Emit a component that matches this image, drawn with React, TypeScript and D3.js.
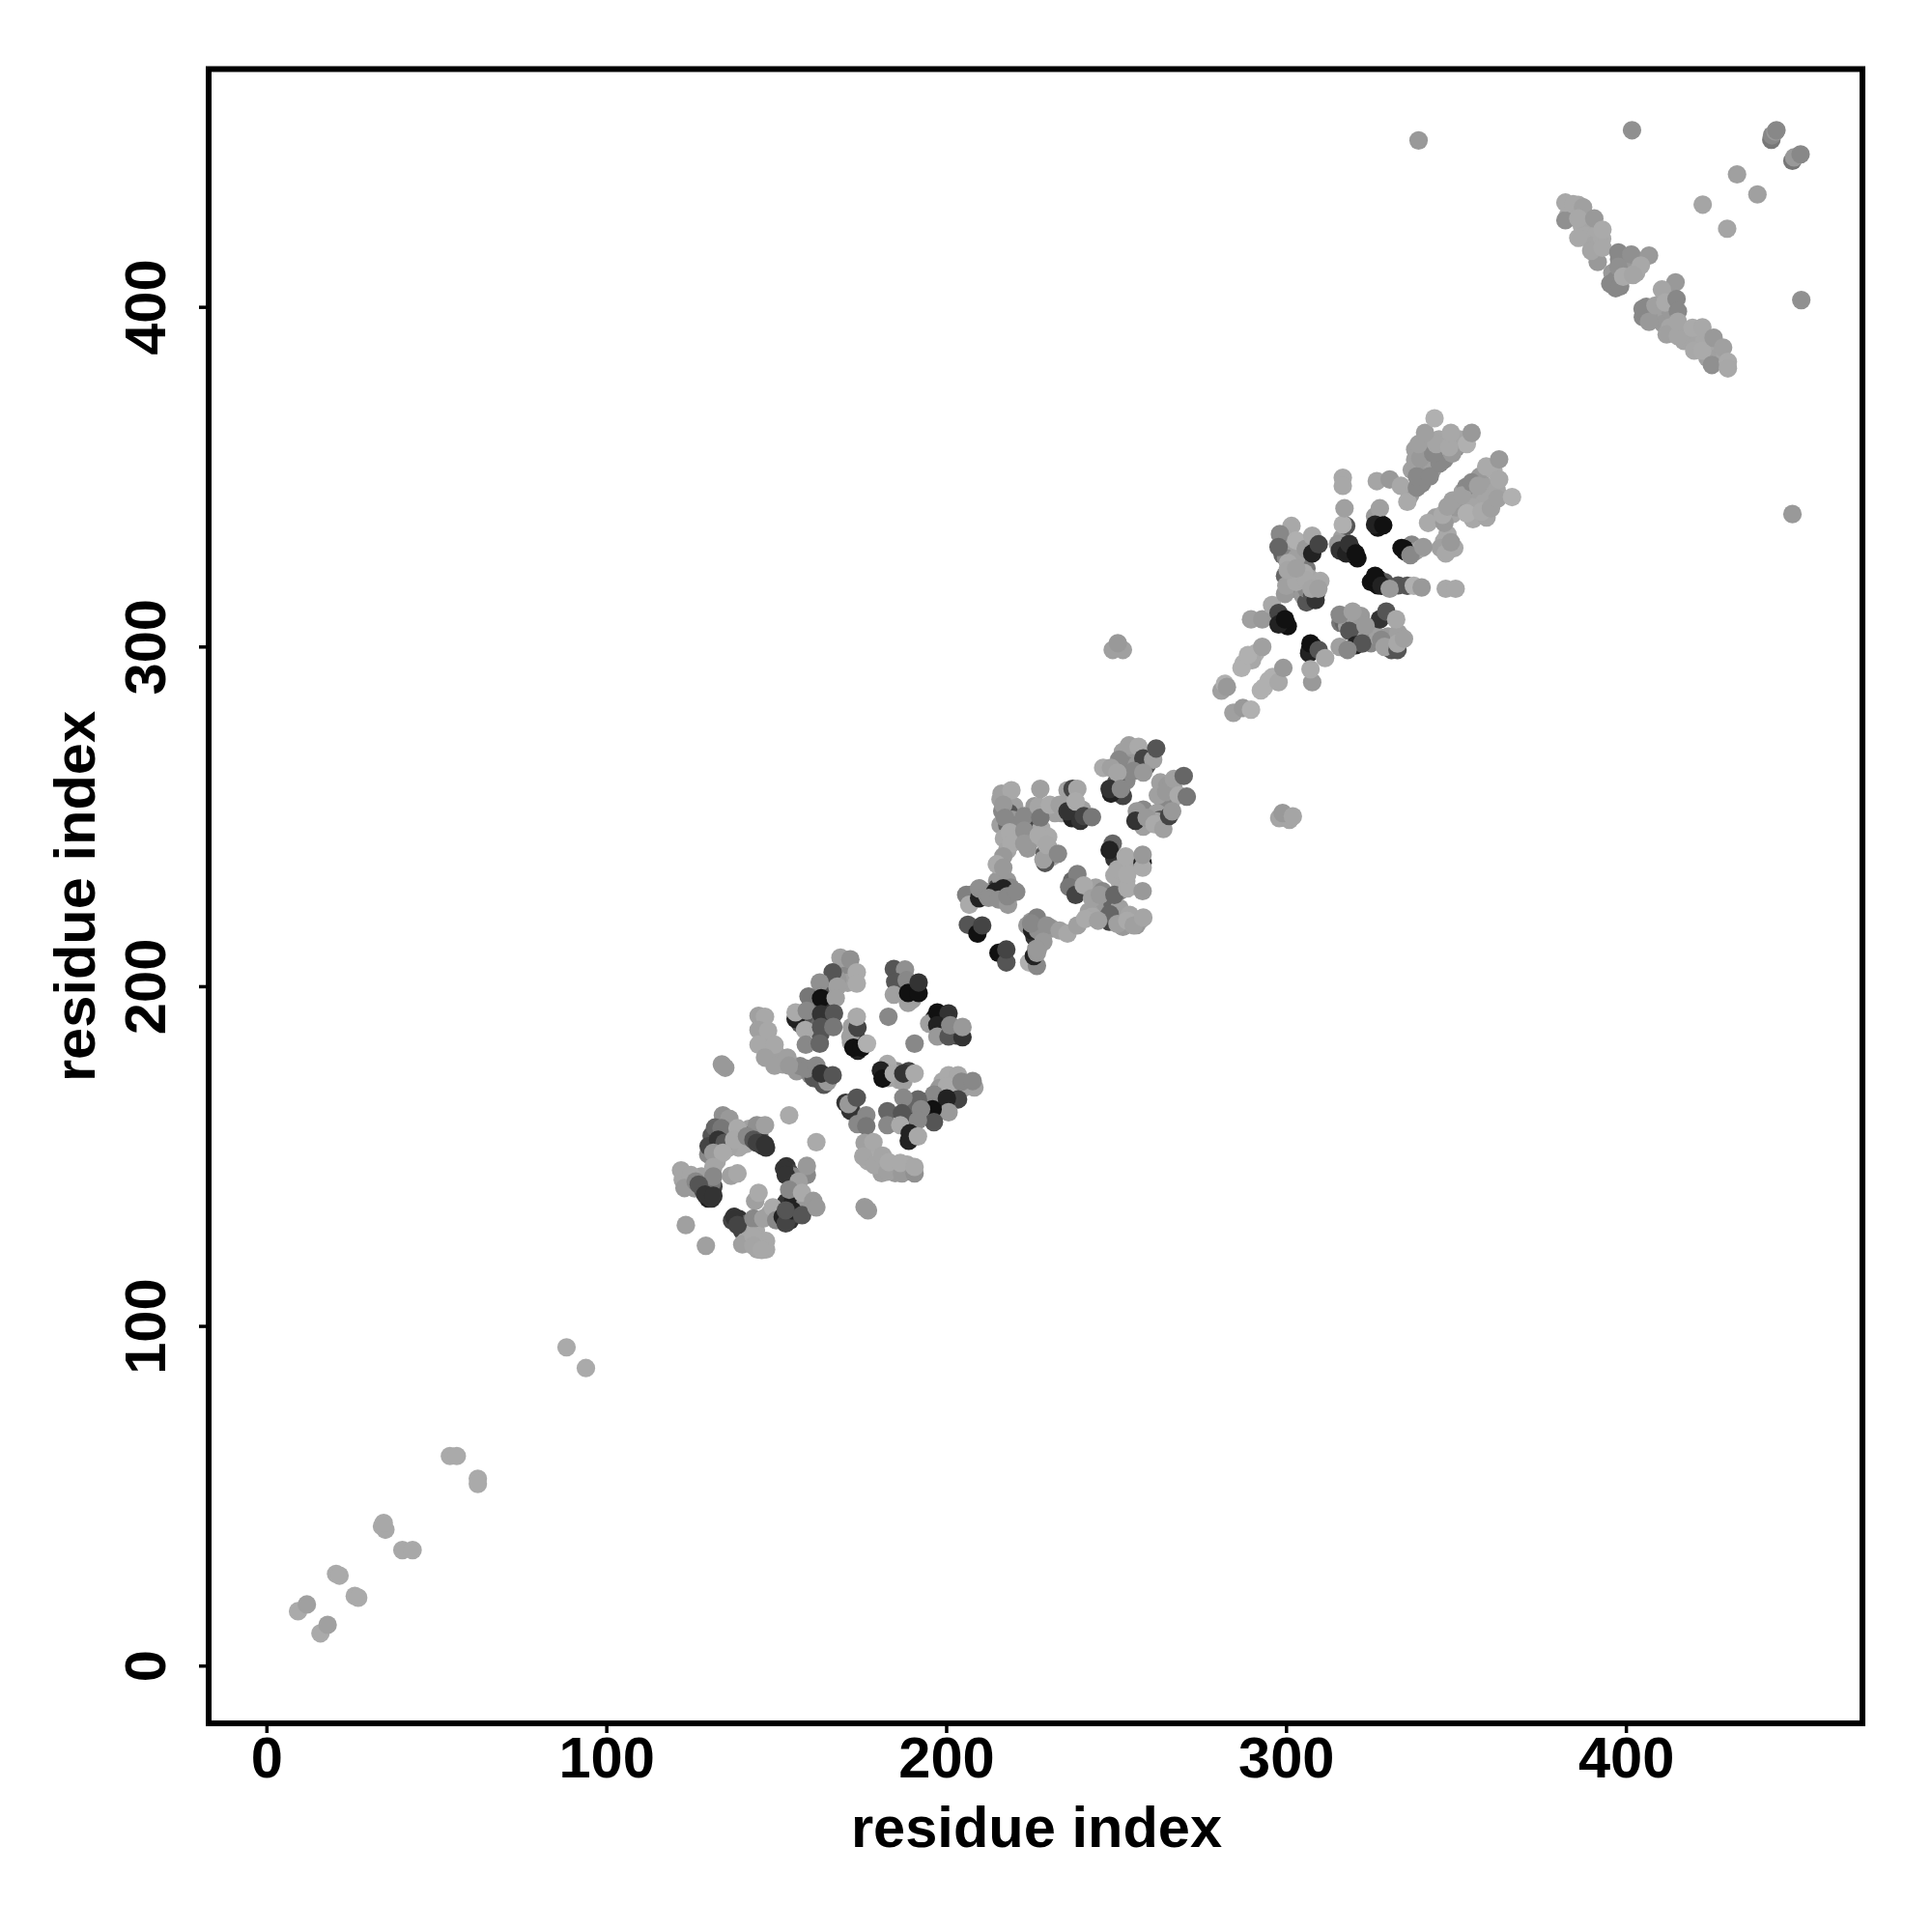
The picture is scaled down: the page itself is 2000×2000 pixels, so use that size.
import { useEffect, useRef } from "react";
import * as d3 from "d3";

// [residue i, residue j, grey level]
type Contact = [number, number, number];

const tickValues = [0, 100, 200, 300, 400];
const axisTitle = "residue index";

const nTerminal: Contact[] = [
  [9.3, 16, 0xaa], [11.9, 18, 0xa0], [15.9, 9.5, 0xaa], [18, 12, 0xa0], [20.5, 27, 0xaa], [21.5, 26.5, 0xaa],
  [26, 20.5, 0xaa], [27, 20, 0xaa], [34, 41, 0xa8], [35, 40, 0xa8], [34.5, 42, 0xa8], [40, 34, 0xa8], [43, 34, 0xa8],
  [54, 61.7, 0xaa], [56, 61.7, 0xaa], [62.2, 55, 0xaa], [62.2, 53.5, 0xaa], [88.3, 93.7, 0xaa], [94, 87.6, 0xaa],
];

// contacts hidden under the top layer of each domain
const domainAUnder: Contact[] = [
  [131, 156, 0x55], [133, 156, 0x44], [135, 156, 0x77], [136, 158, 0x88], [137, 156, 0x99], [139, 156, 0xa0],
  [140, 157, 0xa0], [141, 153.5, 0xa8], [139, 152.5, 0xa8], [136, 152.5, 0xa5], [142, 158, 0xa0], [143, 156.5, 0x77],
  [145, 156, 0x55], [145, 154.5, 0x33], [146, 153, 0x33], [147, 152.5, 0x33], [132, 149, 0xa8], [131, 153, 0x55],
  [130, 150.5, 0x88], [132.5, 148.5, 0xa5],
  [123.5, 143, 0xa0], [122.5, 143, 0xa5], [125, 142, 0xa0], [126, 140.5, 0x99], [124.5, 141, 0x99], [128, 144, 0xa0],
  [128.5, 140, 0x55], [130, 140, 0x44], [130, 137.5, 0x22], [130.5, 138, 0x33], [131, 137.5, 0x33], [131.5, 141, 0x44],
  [131, 142, 0x77],
  [137, 131, 0x44], [139, 131.5, 0x33], [140, 128, 0x44], [141, 130, 0x66], [142, 127, 0xa0], [141, 125, 0xa8],
  [144, 128, 0xa8], [145, 124, 0xa8], [147, 125, 0xa8], [147, 122.5, 0xa8], [144.5, 122.5, 0xa5], [148, 133, 0xa5],
  [150, 133, 0x55], [153, 133, 0x22], [154, 131, 0x33], [155, 135, 0x33], [156, 136, 0x99], [155.5, 133, 0x44],
  [153, 147, 0x33], [154, 145, 0x44], [155, 144, 0x88], [155, 142.5, 0x44], [156, 140, 0x99], [154, 138, 0x88],
  [153, 136.5, 0x33], [155, 137, 0x22], [158, 134.5, 0x66], [158.5, 136, 0x99],
];

const domainA: Contact[] = [
  [134.3, 162, 0x90], [136.2, 161, 0x99], [132, 158.4, 0x66], [133.9, 158.2, 0x77], [138.6, 158.2, 0xaa],
  [144.3, 159.1, 0x90], [146.7, 159.1, 0xa0], [130.1, 152.9, 0x44], [132.9, 154.8, 0x33], [134.8, 153.9, 0x55],
  [137.6, 154.8, 0xa8], [131.5, 151, 0x99], [134.3, 151, 0xaa], [141.4, 155.8, 0x88], [143.3, 154.8, 0x55],
  [144.3, 153.9, 0x40], [146.7, 153.4, 0x33],
  [122, 145.8, 0xa5], [124.9, 144.4, 0xa5], [123, 140.6, 0x99], [131.5, 146.8, 0xa5], [131.5, 144, 0x88],
  [126.3, 142.5, 0x88], [127.2, 141.6, 0x55], [129.1, 138.7, 0x33], [131.5, 138.3, 0x33],
  [123.4, 129.7, 0xa0], [129.3, 123.6, 0xa0], [153.8, 162, 0xaa], [161.8, 154.1, 0xaa], [136.7, 144.2, 0xa0],
  [138.6, 144.9, 0xa8], [143.8, 136.8, 0xa0], [144.8, 139.2, 0xaa],
  [137.6, 132.1, 0x33], [138.6, 129.7, 0x44], [143.3, 131.6, 0x88], [140, 124, 0xa0], [143.3, 126.4, 0xa8],
  [143.3, 123.6, 0xa5], [145.7, 122.4, 0xa8], [146.2, 131.6, 0xa0], [149, 134.9, 0xaa], [150, 131.1, 0x88],
  [151.9, 132.1, 0x22], [152.8, 130.2, 0x44], [154.7, 134, 0x22], [152.8, 134, 0x55],
  [152.3, 146.3, 0x33], [152.8, 144.4, 0x33], [159, 144.4, 0x88], [159, 147.1, 0x99], [156.6, 142.5, 0xa0],
  [153.8, 140.1, 0x88], [157.6, 139.2, 0xaa], [157.6, 132.6, 0x55], [160.9, 136.8, 0x99], [161.8, 134.9, 0x99],
];

const domainBUnder: Contact[] = [
  [146, 184.5, 0xa5], [147, 181, 0xa0], [148, 183, 0xa5], [150, 180, 0xa5], [151, 178, 0xa0], [152, 177, 0xa0],
  [156, 175, 0x99], [157, 176.5, 0x88], [160, 174, 0x88], [161, 173, 0x55], [164, 171, 0x55],
  [164, 199, 0x88], [165, 197, 0x44], [165, 195, 0x33], [163, 194, 0x33], [161, 194, 0x66], [161, 190, 0x22],
  [164, 190, 0x66], [162, 188.5, 0x66], [165, 190, 0x44], [163, 186, 0x55], [170, 206, 0xa0], [170, 203, 0x88],
  [171, 201, 0xa0], [168, 202, 0x99], [165.5, 200, 0x55], [158, 191, 0x55], [157, 189, 0x55],
  [186, 203, 0x77], [187, 199.5, 0x88], [186, 199, 0x33], [190, 198.5, 0x11], [190, 196, 0xa0], [190, 200, 0x22],
  [172, 183.5, 0xa0], [173.5, 185, 0x55], [173, 183, 0x22], [174, 181, 0x22], [175, 183, 0x11],
  [196.5, 190.5, 0x22], [199, 190, 0x55], [199, 186, 0x88], [203, 187, 0x55], [203, 185.5, 0x44], [199, 187, 0x22],
  [182, 175.5, 0x22], [183, 173, 0xa5], [186, 172.5, 0xa5], [185.5, 175, 0x88], [189, 175, 0x44],
  [199, 172, 0xa8], [198, 170, 0x99], [202, 172, 0xa0], [205, 170, 0xa0], [198, 166, 0x22], [198, 168, 0x55],
  [194, 166, 0x66], [194, 162, 0x66], [190, 163, 0x55], [189, 165, 0x66], [190, 160, 0x33], [190, 158, 0x44],
  [189, 154.5, 0x22], [174, 161, 0x88], [172, 164, 0x55],
  [177, 151.5, 0xa5], [177, 148.5, 0xa8], [179, 150, 0xaa], [180, 147, 0xa5], [181, 145, 0xa0], [184, 146, 0xa5],
  [185, 145, 0x99], [188.5, 145.5, 0xa0], [188.5, 147.5, 0xa8],
];

const domainB: Contact[] = [
  [134, 177, 0x99], [135, 176, 0x99], [134.3, 176.6, 0x99], [176, 135, 0x99], [177, 134, 0x99], [176.3, 134.7, 0x99],
  [144.8, 191.3, 0xa0], [146.7, 191, 0xa8], [144.8, 187.1, 0xa0], [147.6, 186.9, 0xa8], [144.8, 182.8, 0xa8],
  [149.5, 182.8, 0xa8], [146.7, 179, 0xa0], [149.5, 176.6, 0xa0], [153.3, 179, 0xa0], [153.8, 176.6, 0x99],
  [159, 175.7, 0x88], [161.8, 176.6, 0x88], [162.8, 172.4, 0x55], [165.1, 171.9, 0x99], [163.2, 174.3, 0x33],
  [166.6, 173.8, 0x55],
  [168.9, 208.4, 0xa0], [171.8, 207.9, 0x90], [166.6, 204.1, 0x55], [173.7, 204.1, 0xaa], [173.7, 200.8, 0xaa],
  [162.8, 201.1, 0x90], [168, 199.9, 0xa0], [159.5, 197, 0x77], [163.2, 196.5, 0x11], [167.5, 196.5, 0xa0],
  [155.7, 190.4, 0x22], [155.7, 192.3, 0xaa], [159, 192.8, 0x88], [163.2, 191.8, 0x33], [167, 192, 0x55],
  [158.5, 187.1, 0xa8], [163.2, 188, 0x55], [166.8, 188, 0x77], [158.7, 182.8, 0x88], [162.8, 183.1, 0x66],
  [184.6, 205.1, 0x55], [187.9, 204.9, 0x90], [185, 201.3, 0x55], [184.6, 197.5, 0xa0], [188.8, 195.1, 0xa0],
  [188.4, 201.8, 0x88], [188.8, 198, 0x11], [191.9, 198, 0x11], [191.9, 201.1, 0x33],
  [171.8, 185.2, 0xa0], [172.2, 188, 0xa0], [173.9, 187.8, 0x44], [173.7, 191, 0xaa], [172.7, 181.9, 0x11],
  [175.1, 181.9, 0x11], [176.7, 183.1, 0xb0], [183, 191, 0x88], [190.7, 183.1, 0x88],
  [195, 189, 0xa0], [197.4, 192.3, 0x11], [200.7, 192, 0x33], [197.4, 188.5, 0x22], [197.4, 185.2, 0x99],
  [200.7, 185.2, 0x55], [204.8, 185, 0x33], [201.2, 188.5, 0x88], [204.8, 188, 0x99],
  [182.7, 177.1, 0xaa], [180.8, 175.2, 0x22], [181.3, 172.8, 0x11], [184.6, 174.3, 0xa8], [187.4, 171.9, 0xa0],
  [187.4, 174.3, 0x33], [190.7, 174.3, 0xaa],
  [200.7, 173.8, 0xaa], [203.5, 173.8, 0xa8], [200.2, 170.5, 0xaa], [208.3, 170.2, 0xa0], [204.5, 171.9, 0x88],
  [207.8, 172.1, 0x88], [196.4, 168.1, 0x88], [203.5, 166.7, 0x44], [200.2, 167, 0x22], [200.7, 162.9, 0x99],
  [196, 163.8, 0x11], [196.4, 160, 0x55], [191.7, 166.7, 0x66], [187.4, 167.2, 0x88], [182.7, 163.2, 0x66],
  [187, 162.6, 0x55], [182.7, 159.1, 0x88], [186.5, 159.1, 0xaa], [192.6, 163.8, 0x88], [191.7, 160.5, 0x88],
  [189.3, 156.7, 0x22], [191.7, 155.8, 0xa8],
  [170.4, 165.7, 0x33], [171.8, 163.4, 0x33], [171.3, 165.3, 0x99], [173.7, 167.2, 0x55], [173.9, 159.4, 0x88],
  [176.5, 162, 0x88], [176.5, 158.8, 0x77],
  [176, 153.9, 0xa0], [178.6, 154.1, 0xa8], [175.6, 149.9, 0xa5], [178.9, 147.3, 0xa5], [181.3, 150.1, 0xa5],
  [182.7, 145.4, 0xa0], [183.1, 148.2, 0xaa], [187, 144.9, 0x99], [186.5, 148, 0xaa], [190.7, 144.9, 0x90],
  [190.7, 146.8, 0xa8],
];

const domainCUnder: Contact[] = [
  [216, 255, 0xa0], [218, 255.5, 0x99], [220, 253, 0xa0], [216.5, 251.5, 0x88], [218.5, 251, 0x55], [219.5, 249, 0x99],
  [216, 247.5, 0xa0], [218, 247.5, 0x66], [220, 246, 0xa5], [217, 243.5, 0xa8], [220, 243.5, 0xaa], [218, 240, 0xa5],
  [221, 247.5, 0x88], [225, 249, 0x99], [225, 246.5, 0x99], [225, 243, 0xa8], [224, 240.5, 0x99], [226, 248, 0x44],
  [228, 246.5, 0xa8], [230, 244, 0xaa], [230, 241, 0xa5], [231, 238, 0xa8], [229, 239, 0x55], [226, 253, 0x99],
  [228, 251, 0x66], [232, 251, 0xa0], [234, 251, 0xa0], [236, 254.5, 0xa8], [238, 252, 0x33], [237, 249.5, 0x22],
  [240, 252, 0xa0],
  [215, 231, 0x99], [215, 229, 0x44], [216, 232, 0x99], [218, 231, 0x99], [213, 227, 0x22], [216, 226.5, 0x22],
  [218, 226, 0x33], [219, 229, 0x88], [207.5, 227, 0x88], [211, 228, 0x99],
  [225, 219, 0x99], [227, 218, 0x55], [228, 216, 0x88], [226, 214.5, 0x33], [228, 218, 0x88], [231, 217, 0x99],
  [227, 211, 0x99],
  [237, 231, 0x66], [239, 228, 0x55], [242, 228, 0xa8], [244, 229, 0xa0], [246, 228, 0x88], [247, 224, 0x99],
  [246, 222, 0x99], [249, 224, 0x66], [248, 219, 0x44], [251, 223, 0xa0], [251, 228, 0x88], [251, 231, 0xa8],
  [251, 236.5, 0xa5], [254, 236, 0xa8], [253, 231, 0xa8], [242, 222, 0xa0], [243, 220.5, 0xa8], [252, 217.5, 0x99],
  [254, 221, 0xa5], [257, 219.5, 0xa5], [256, 218, 0x99], [249.5, 237.5, 0x33],
  [252, 269, 0xa0], [255, 268, 0x99], [253, 265, 0x88], [256, 265, 0x99], [259, 265, 0x55], [252, 262, 0x88],
  [253, 260.5, 0x88], [250, 260, 0x55], [252, 256, 0x44], [263, 260, 0xa0], [265, 259, 0x99], [266, 254, 0xa5],
  [267, 258, 0xa0], [264, 254, 0x88], [258, 252, 0x88], [262, 251, 0xa0], [263, 249, 0x55], [258, 247, 0xa0],
  [262, 248.5, 0xa5],
];

const domainC: Contact[] = [
  [216.3, 256.7, 0xa0], [219.2, 257.7, 0xa8], [216.8, 253.4, 0x99], [217.3, 249.6, 0x88], [218.7, 245.3, 0xaa],
  [219.2, 242, 0xaa], [216.8, 238.2, 0x99], [214.9, 235.9, 0xaa], [216.8, 234.9, 0x99],
  [223, 250.1, 0x88], [223, 245.8, 0x90], [223, 242, 0x99],
  [227.2, 252.9, 0xa5], [227.7, 258.1, 0xa0], [227.7, 249.6, 0x77], [227.2, 244.4, 0xaa], [229.1, 236.3, 0x55],
  [228.6, 237.3, 0xa0], [229.6, 241.6, 0xa8], [232.9, 239, 0x88],
  [230.5, 253.4, 0xaa], [233.4, 253.4, 0xa0], [235.7, 257.7, 0xa0], [237.2, 258.1, 0x44], [238.6, 258.1, 0xa5],
  [235.7, 251.5, 0x33], [238.1, 254.4, 0xaa], [239.5, 248.7, 0x33], [240.5, 250.1, 0x44], [242.9, 249.8, 0x77],
  [205.9, 226.9, 0x80], [206.8, 224, 0xaa], [209.7, 225.9, 0x22], [209.7, 228.8, 0x90], [212, 226.9, 0x90],
  [214.4, 227.8, 0x22], [216.8, 228.8, 0x22], [212.5, 226, 0x90], [215.5, 225.5, 0x90], [218.2, 224, 0x99],
  [218, 226.5, 0x88], [220.6, 227.8, 0x88],
  [206.4, 218.1, 0x55], [209.2, 215.5, 0x11], [210.6, 217.9, 0x44],
  [215.4, 209.8, 0x11], [217.7, 207, 0x55], [217.7, 210.8, 0x44],
  [223.9, 217.9, 0x99], [226.7, 220.2, 0x80], [225.3, 216.4, 0x22], [227, 216.5, 0x90], [225, 218.5, 0x88],
  [229.6, 217.9, 0x90], [228.6, 213.1, 0x99],
  [224.4, 207, 0xb0], [226.7, 206, 0x88], [225.8, 208.9, 0x22], [226.7, 209.8, 0x99], [226.5, 211, 0x99],
  [233.4, 216.4, 0xa0], [235.7, 215.5, 0xa8], [238.6, 217.9, 0xa0], [240.9, 219.8, 0xaa],
  [238.6, 233, 0x80], [236.2, 229.2, 0x77], [238.1, 226.9, 0x44], [240.5, 229.7, 0xaa], [242.9, 225.9, 0xa0],
  [245.2, 226.9, 0x99], [249.5, 226.9, 0x66], [249.5, 232.6, 0xa8], [253.3, 228.8, 0xaa], [250.4, 234.4, 0xa8],
  [257.8, 228, 0x99], [248.1, 221.2, 0x66], [250.4, 218.3, 0xa0], [244.7, 219.3, 0xa0], [253.3, 219.3, 0xaa],
  [255.2, 217.9, 0xa0], [258, 220.2, 0xa5],
  [249, 242, 0x66], [248.1, 240.1, 0x22], [253.3, 233, 0xaa], [252.8, 238.2, 0xaa], [257.8, 236.3, 0x22],
  [257.8, 234.9, 0xaa], [257.8, 238.7, 0x99],
  [253.8, 270.9, 0xa0], [256.6, 270.5, 0xaa], [250.9, 266.7, 0x88], [258, 267.1, 0x44], [260.9, 266.7, 0xa0],
  [261.8, 270, 0x55], [246.2, 264.3, 0xaa], [248.5, 264.3, 0xa0], [255.2, 263.4, 0x88], [258, 262.9, 0x99],
  [250.4, 262.9, 0xa5], [248.5, 256.7, 0x22], [248.1, 258.1, 0x33], [251.4, 258.1, 0x88],
  [262.3, 256.2, 0xa0], [264.7, 257.2, 0x99], [267, 261, 0xa0], [269.9, 261.9, 0x66], [268.4, 256.2, 0xaa],
  [270.8, 255.8, 0x77], [256.1, 251.5, 0x99], [255.7, 248.7, 0x33], [259, 249.6, 0x99], [261.3, 247.7, 0xaa],
  [263.9, 246.3, 0xa0], [265.6, 250.1, 0x44], [266.5, 251.5, 0x99],
  [249, 299, 0xa0], [252, 299, 0xa0], [250.5, 301, 0x99], [298, 249.5, 0xa5], [301, 249, 0xa5], [299, 251, 0x99],
  [302, 250, 0xa5],
];

const domainDUnder: Contact[] = [
  [287.5, 295, 0xb0], [291, 298, 0xb0], [290, 296, 0xa8], [293.5, 288, 0xb0], [296, 291, 0xb0],
  [299, 327, 0x66], [300, 330, 0x88], [301, 333, 0x99], [302, 329, 0xa0], [300, 326, 0x88], [301, 322, 0x88],
  [302, 320, 0xaa], [303, 317, 0xa5], [304, 319, 0x88], [302, 317, 0x88], [305, 318, 0xa8], [306, 323, 0x77],
  [307, 320, 0xa5], [308, 318, 0x77], [305, 315, 0x99], [306, 313, 0x55], [303, 326, 0xa0], [306, 317, 0x88],
  [309, 316, 0x66], [308, 329, 0x33],
  [316, 330, 0x33], [318, 328, 0x11], [319, 329, 0x11], [316.5, 332, 0xa0],
  [325, 319, 0x11], [327, 318, 0x11], [327, 320, 0x22], [329, 319, 0x55], [333, 318, 0x55],
  [316, 307, 0x77], [317, 307, 0x66], [318, 306, 0xa0], [320, 306, 0x66], [321, 303, 0x55], [323, 302, 0x99],
  [325, 304, 0x88], [325, 301, 0x88], [327, 303, 0xa0], [329, 301, 0x99], [330, 303, 0x99], [331, 299, 0x55],
  [333, 304, 0xa0], [320, 309, 0xa0], [322, 309, 0x99], [328, 302, 0x88],
  [336.5, 344.5, 0x99], [340, 352, 0x99], [343, 352, 0x99], [346.5, 355, 0x88], [337, 352, 0xa0], [338, 355, 0xa0],
  [338, 358, 0xa0], [342, 355, 0xa0], [346, 358, 0xa0], [350, 358.5, 0x88], [350, 359, 0x99], [342, 361, 0xa5],
  [345, 361, 0xa5], [351, 361, 0xa5], [340, 348, 0x88],
  [344, 338, 0xa0], [349, 339, 0xa5], [350, 341, 0x99], [352, 342, 0x99], [354, 344, 0xa0], [356, 344, 0xa0],
  [358, 342, 0xa5], [355, 341, 0xa5], [352, 345.5, 0xa0], [349, 343, 0xa0], [353, 347, 0x88], [357, 350, 0x99],
  [359, 347, 0xa0], [359, 344, 0xa5], [362, 346, 0xa5], [355, 337.5, 0xa8], [359, 338, 0xa5], [361, 352, 0xaa],
  [347.5, 333, 0xa8], [346.5, 331, 0xa8], [345.5, 329, 0xa0], [349.5, 329, 0xa8],
  [336, 329, 0x33], [337, 330, 0x88], [338, 328, 0x99], [340, 329, 0xa8],
  [300, 307, 0x11], [299, 307.5, 0x11], [300.5, 306, 0x11], [308, 300, 0x11], [307, 299, 0x22], [320, 327, 0x11],
  [321, 326, 0x11], [326, 320, 0x11], [327, 319, 0x11], [328, 336, 0x11], [327, 335, 0x11], [335, 328, 0x11],
  [334, 329, 0x11],
];

const domainD: Contact[] = [
  [281, 287, 0xa0], [282, 289, 0xb0], [284.5, 280.5, 0xa0], [282.6, 288.1, 0x99],
  [286.9, 293.7, 0xb0], [288.8, 297.5, 0xb0], [293, 299.9, 0xa0], [294.9, 290, 0xb0], [292.6, 287.1, 0xb0],
  [297.8, 289.5, 0xa8], [299.2, 293.7, 0x99], [287.3, 281.9, 0x99], [289.7, 281.4, 0xb0],
  [316.7, 349.7, 0xa8], [316.7, 347.3, 0xa8], [317.7, 335.5, 0x55], [316.7, 335.9, 0xb0], [317.2, 340.7, 0xa0],
  [315.3, 330.2, 0x99], [315.8, 328.3, 0x33], [317.7, 327.4, 0x22], [318.6, 330.2, 0x33], [320.5, 327.4, 0x11],
  [326.2, 338.3, 0x99], [327.6, 340.7, 0xa0], [326.2, 335.9, 0x22], [328.6, 335.7, 0x11],
  [326.7, 348.7, 0xa5], [330.5, 349.2, 0x99], [333.8, 347.3, 0xa8],
  [334.7, 328.8, 0x11], [336.6, 326.9, 0x88], [340.4, 329.3, 0x99], [347, 327.4, 0xa8], [348.5, 330.7, 0x99],
  [326.2, 320.8, 0x11], [328.1, 317.9, 0x22], [330.5, 317, 0x99], [335.7, 317.9, 0x55], [337.6, 317.9, 0xb0],
  [339.9, 317.4, 0x99], [347, 317, 0xa8], [349.9, 317, 0xa8],
  [327.6, 308, 0x33], [329.5, 310.3, 0x55], [332.4, 308, 0xa8],
  [315.8, 309.4, 0x88], [319.6, 310.3, 0xa0], [318.6, 304.6, 0x55], [323.4, 306.1, 0x99], [320.5, 300.4, 0x22],
  [322.4, 300.9, 0x55], [315.8, 299.9, 0xa0], [318.1, 299, 0x88],
  [329, 299.9, 0xa0], [332.8, 299, 0x55], [332.8, 300.9, 0xa8], [334.7, 302.3, 0xa0],
  [306.8, 298, 0x22], [307.2, 300.9, 0x11], [309.6, 299, 0x55], [311.5, 296.6, 0xa8], [307.7, 289.5, 0x99],
  [307.2, 293.3, 0xaa],
  [289.7, 308, 0xa0], [293, 308, 0x99], [295.9, 312.2, 0xa8], [297.8, 309.9, 0x44], [297.8, 306.5, 0x22],
  [299.7, 308, 0x11],
  [299.7, 320.8, 0x66], [299.7, 315.5, 0x99], [300.1, 317.9, 0xa0], [305.3, 321.7, 0xaa], [307.7, 315.1, 0x55],
  [308.7, 313.7, 0x33], [310.1, 319.3, 0xa8],
  [301.6, 335.5, 0xa8], [298.2, 333.1, 0x88], [297.8, 329.3, 0x66], [303, 331.2, 0xb0], [300.6, 324.6, 0xaa],
  [305.8, 328.8, 0x99], [307.7, 327.4, 0x22], [307.7, 332.6, 0xa8], [309.6, 330.1, 0x44],
  [303, 319, 0xa8], [306, 319.5, 0xa8], [300.5, 322.5, 0xa5], [303, 323, 0xa0], [307.5, 317, 0xa5], [309.5, 317, 0xa0],
  [335.7, 342.6, 0xaa], [338.5, 346.8, 0x88], [340, 348.5, 0x88], [338.5, 350.1, 0x88], [342.3, 350.1, 0x88],
  [339.5, 355.4, 0x99], [345.2, 353.9, 0x88], [343.3, 356.8, 0x88], [348.9, 356.8, 0x99], [339, 359.6, 0xa0],
  [344.2, 359.6, 0xa5], [353.2, 359.6, 0xb0], [340.9, 362.9, 0xa0], [348, 358.7, 0xa8], [348.5, 362.9, 0xa8],
  [354.6, 362.9, 0x99], [343.7, 367.2, 0xb0],
  [341.8, 336.4, 0xaa], [346.6, 336.4, 0x99], [346.1, 338.8, 0xaa], [347.5, 341.2, 0xa0], [353.2, 339.2, 0xb0],
  [351.8, 344.5, 0xa0], [357.5, 339.7, 0xaa], [354.6, 348.3, 0x88], [356.5, 347.3, 0xa0], [360.3, 340.7, 0xa0],
  [362.2, 343.5, 0xa0], [366.5, 344, 0xb0], [358.9, 353, 0xaa], [362.7, 349.2, 0xa8], [362.7, 355.1, 0x99],
];

const domainEUnder: Contact[] = [
  [383, 427, 0xa8], [385, 427, 0xa8], [386, 430, 0xa8], [387, 424, 0xa8], [388, 426, 0xa5], [389, 423, 0xa5],
  [388, 421, 0xa8], [391, 421, 0xa8], [391, 419, 0xa8], [390, 418, 0xa5], [393, 420, 0xa8], [398, 414, 0x88],
  [399, 412, 0x99], [396, 410, 0x99], [397, 408, 0x88], [398, 407, 0x77], [400, 411, 0xa5], [400, 413, 0x99],
  [403, 410, 0xa5], [397, 405.5, 0x88], [406, 400, 0x88], [405, 397, 0x88], [407, 398, 0xa0],
  [409, 397, 0x88], [410, 399, 0x99], [412, 397, 0xa0], [411, 395, 0x99], [412, 403, 0xa0], [413, 399, 0x99],
  [413, 394, 0xa5], [417, 390, 0xa5], [418, 392, 0xa8], [419, 390, 0xa5], [421, 389, 0xa5], [423, 390, 0xa8],
  [424, 387, 0xa5], [426, 388, 0xa5], [427, 385, 0xa0], [428, 384, 0xa5], [424, 385, 0xa0],
];

const domainE: Contact[] = [
  [382.2, 425.5, 0x90], [382.2, 430.7, 0xa8], [384.5, 430.2, 0xa8], [387.4, 429.3, 0xa0], [386, 426, 0xa8],
  [390.7, 426, 0x99], [386, 420.3, 0xa8], [393.1, 422.7, 0xaa], [391.7, 413.2, 0x99], [389.8, 416.5, 0xa5],
  [393.1, 417.4, 0xa8], [397.8, 416, 0x88], [401.6, 415.4, 0x90], [406.8, 415.1, 0x99], [404.4, 412.2, 0xa8],
  [397.8, 411.8, 0x90], [395.4, 406.8, 0x88], [398.3, 406, 0x88], [399.2, 408.9, 0xaa], [402.1, 409.4, 0xa5],
  [414.6, 407.2, 0x99], [410.6, 405.1, 0xa5], [404.9, 399.4, 0x88], [406.8, 395.6, 0x99], [408.7, 400.4, 0xa0],
  [411.6, 401.3, 0xaa], [414.9, 402.3, 0x88], [415.3, 398.7, 0x88], [412, 391.9, 0xa0], [415.3, 391.4, 0xa5],
  [415.3, 395.6, 0xa5], [419.6, 393.8, 0xaa], [422.5, 394, 0xa8], [420.1, 387.1, 0xa8], [422.5, 387.1, 0xaa],
  [425.8, 390.9, 0x99], [428.6, 388, 0xa0], [425.3, 382.9, 0x90], [430, 383.8, 0xaa], [430, 381.9, 0xa8],
  [339, 449, 0x99], [449, 339, 0x99], [401.8, 452, 0x90], [442.8, 449.2, 0x77], [443, 450.5, 0x88], [444, 451.6, 0x99],
  [444.3, 452, 0x88], [449, 443, 0x77], [449.5, 444, 0x99], [451.4, 444.9, 0x88], [432.7, 439, 0xa0], [438.7, 433.1, 0xa0],
  [422.6, 430.1, 0xa5], [429.8, 423, 0xa5], [451.6, 402, 0x90],
];

const contacts = [
  ...nTerminal,
  ...domainAUnder, ...domainA,
  ...domainBUnder, ...domainB,
  ...domainCUnder, ...domainC,
  ...domainDUnder, ...domainD,
  ...domainEUnder, ...domainE,
];

const frame = { left: 216, right: 1928, top: 71.5, bottom: 1784 };

const scaleX = d3.scaleLinear().domain([-17, 469.6]).range([frame.left, frame.right]);
const scaleY = d3.scaleLinear().domain([-17, 470]).range([frame.bottom, frame.top]);

const labelFont = { fontFamily: "Liberation Sans", fontWeight: 700, fontSize: 59.6 };

function AxisBottom() {
  const ref = useRef<SVGGElement>(null);
  useEffect(() => {
    if (ref.current) {
      const g = d3.select(ref.current);
      g.call(d3.axisBottom(scaleX).tickValues(tickValues).tickFormat(d3.format("d")).tickSize(10));
      g.select(".domain").remove();
      g.selectAll("line").attr("stroke", "#000").attr("stroke-width", 3.5);
      g.selectAll("text")
        .attr("fill", "#000")
        .attr("font-family", labelFont.fontFamily)
        .attr("font-weight", labelFont.fontWeight)
        .attr("font-size", labelFont.fontSize)
        .attr("dy", null)
        .attr("y", 56);
    }
  }, []);
  return <g ref={ref} transform={`translate(0, ${frame.bottom})`} />;
}

function AxisLeft() {
  const ref = useRef<SVGGElement>(null);
  useEffect(() => {
    if (ref.current) {
      const g = d3.select(ref.current);
      g.call(d3.axisLeft(scaleY).tickValues(tickValues).tickFormat(d3.format("d")).tickSize(10));
      g.select(".domain").remove();
      g.selectAll("line").attr("stroke", "#000").attr("stroke-width", 3.5);
      g.selectAll("text")
        .attr("fill", "#000")
        .attr("font-family", labelFont.fontFamily)
        .attr("font-weight", labelFont.fontWeight)
        .attr("font-size", labelFont.fontSize)
        .attr("dy", null)
        .attr("x", null)
        .attr("text-anchor", "middle")
        .attr("transform", "translate(-45, 0) rotate(-90)");
    }
  }, []);
  return <g ref={ref} transform={`translate(${frame.left}, 0)`} />;
}

export default function App() {
  return (
    <svg
      width={2000}
      height={2000}
      style={{ position: "absolute", left: 0, top: 0, background: "#fff" }}
    >
      {contacts.map(([i, j, grey], n) => (
        <circle key={n} cx={scaleX(i)} cy={scaleY(j)} r={9.6} fill={d3.rgb(grey, grey, grey).formatHex()} />
      ))}
      <rect
        x={frame.left}
        y={frame.top}
        width={frame.right - frame.left}
        height={frame.bottom - frame.top}
        fill="none"
        stroke="#000"
        strokeWidth={6}
      />
      <AxisBottom />
      <AxisLeft />
      <text x={1073} y={1912} textAnchor="middle" {...labelFont}>
        {axisTitle}
      </text>
      <text transform="translate(98, 928) rotate(-90)" textAnchor="middle" {...labelFont}>
        {axisTitle}
      </text>
    </svg>
  );
}
